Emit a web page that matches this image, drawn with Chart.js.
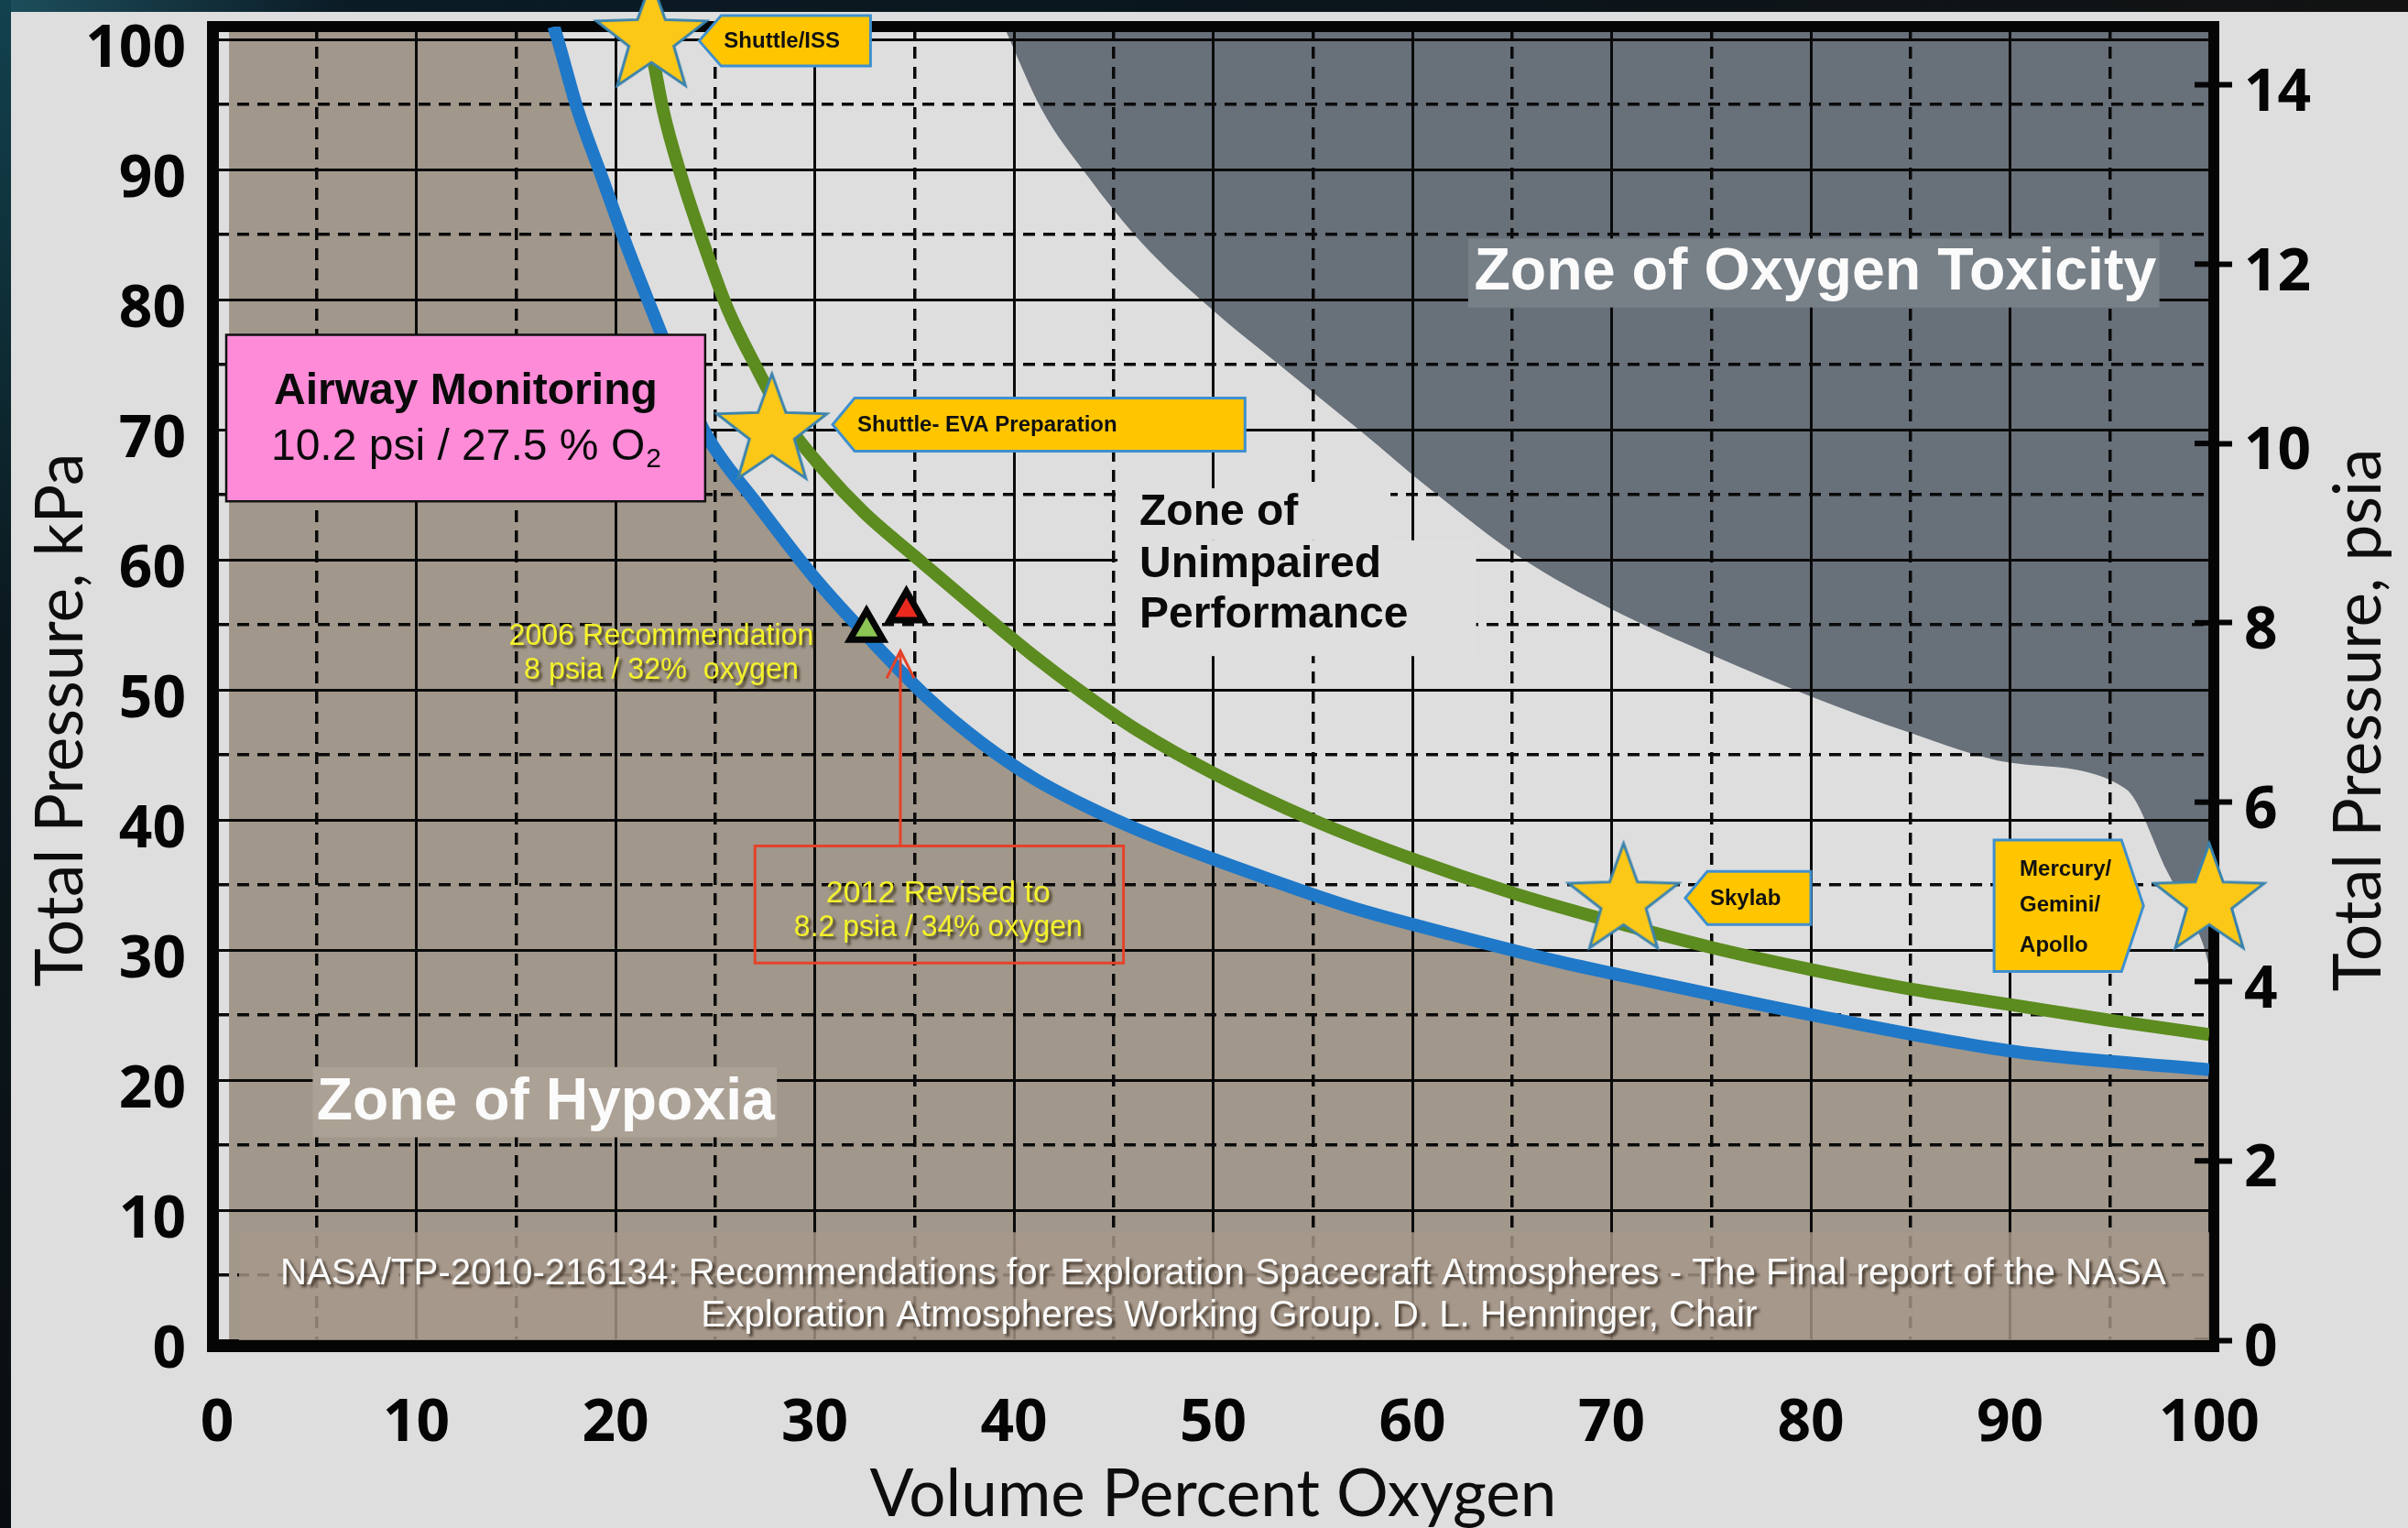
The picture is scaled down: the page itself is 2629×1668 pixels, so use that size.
<!DOCTYPE html>
<html>
<head>
<meta charset="utf-8">
<title>Spacecraft atmosphere zones</title>
<script src="https://cdn.jsdelivr.net/npm/chart.js@4.4.1/dist/chart.umd.min.js"></script>
<style>
  html, body { margin: 0; padding: 0; background: #dedede; }
  #wrap { position: relative; width: 2629px; height: 1668px; overflow: hidden; background: #dedede; }
  #topBand { position: absolute; left: 0; top: 0; width: 2629px; height: 13px;
    background: linear-gradient(90deg, #1d4f5c 0, #0b1c26 14%, #0a151c 55%, #121212 100%); }
  #leftBand { position: absolute; left: 0; top: 0; width: 12px; height: 1668px;
    background: linear-gradient(180deg, #12424e 0, #0b1a20 40%, #0a0d10 100%); }
  #myChart { position: absolute; left: 0; top: 0; }
</style>
</head>
<body>
<div id="wrap">
  <div id="topBand"></div>
  <div id="leftBand"></div>
  <canvas id="myChart" width="2629" height="1668"></canvas>
</div>
<script>
// axis ticks
const oxygenTicks = [0, 5, 10, 15, 20, 25, 30, 35, 40, 45, 50, 55, 60, 65, 70, 75, 80, 85, 90, 95, 100];
const kpaTicks = [0, 5, 10, 15, 20, 25, 30, 35, 40, 45, 50, 55, 60, 65, 70, 75, 80, 85, 90, 95, 100];
const psiaTicks = [0, 2, 4, 6, 8, 10, 12, 14];
const KPA_PER_PSI = 6.894757;

// blue line - hypoxia limit
const hypoxiaO2 = [16.9, 17.1, 18.1, 19.3, 20.5, 21.8, 23.1, 24.6, 27.1, 30.0, 32.9, 35.8, 38.4, 41.0, 43.7, 46.3, 51.6, 56.9, 62.2, 67.4, 71.9, 80.4, 90.2, 100];
const hypoxiaKpa = [101, 100, 94.6, 89.5, 84.4, 79.3, 74.4, 69.5, 64.3, 58.6, 53.7, 49.2, 45.9, 43.2, 41.0, 39.2, 36.1, 33.3, 31.1, 29.1, 27.6, 24.9, 22.2, 20.8];

// green line - sea level equivalent
const equivO2 = [21.6, 22.4, 23.3, 24.4, 25.6, 27.0, 28.6, 30.4, 32.5, 35.0, 38.0, 41.0, 43.7, 46.3, 50.0, 55.0, 60.0, 65.0, 70.0, 75.0, 80.0, 85.0, 90.0, 95.0, 100];
const equivKpa = [101, 94.5, 89.5, 84.4, 79.4, 75, 70.5, 67, 63.6, 60.3, 56.4, 52.6, 49.5, 46.8, 43.6, 40.0, 37.0, 34.4, 32.2, 30.2, 28.5, 27.0, 25.8, 24.6, 23.5];

// edge of the oxygen toxicity zone
const toxicO2 = [39.5, 41.4, 43.7, 46.4, 49.9, 53.8, 57.4, 61.0, 65.4, 70.0, 75.0, 80.0, 85.0, 90.0, 95.8, 97.9, 99.7, 100];
const toxicKpa = [101, 94.6, 89.5, 84.4, 79.3, 74.4, 69.9, 65.3, 60.2, 56.2, 52.7, 49.5, 46.7, 44.4, 42.4, 36.0, 30.4, 28.7];

// missions (stars)
const missionNames = ['Shuttle/ISS', 'Shuttle- EVA Preparation', 'Skylab', 'Mercury/Gemini/Apollo'];
const missionO2 = [21.8, 27.85, 70.6, 100];
const missionKpa = [100.5, 70.3, 34.2, 34.2];

// exploration recommendations (triangles)
const recYears = ['2006', '2012'];
const recO2 = [32.6, 34.6];
const recKpa = [54.6, 56.1];

function pts(xs, ys) {
    return xs.map((x, i) => ({ x: x, y: ys[i] }));
}

function makeStar(r) {
    let c = document.createElement('canvas');
    let size = Math.ceil(r * 2 + 8);
    c.width = size;
    c.height = size;
    let g = c.getContext('2d');
    let cx = size / 2, cy = size / 2 + r * 0.1;
    g.beginPath();
    for (let i = 0; i < 10; i++) {
        let rr = i % 2 === 0 ? r : r * 0.41;
        let a = -Math.PI / 2 + i * Math.PI / 5;
        g.lineTo(cx + rr * Math.cos(a), cy + rr * Math.sin(a));
    }
    g.closePath();
    g.fillStyle = '#fcc818';
    g.fill();
    g.lineWidth = 3;
    g.strokeStyle = '#3a83ad';
    g.stroke();
    return c;
}

// text with optional horizontal squeeze to a target width
function txt(g, s, x, y, o) {
    g.save();
    g.font = o.font;
    g.textBaseline = 'middle';
    g.textAlign = 'left';
    let w = g.measureText(s).width;
    let sx = o.sx || (o.width ? o.width / w : 1);
    let dx = o.align === 'center' ? -w * sx / 2 : (o.align === 'right' ? -w * sx : 0);
    if (o.shadow) {
        g.shadowColor = o.shadow;
        g.shadowOffsetX = 3;
        g.shadowOffsetY = 3;
        g.shadowBlur = 3;
    }
    g.fillStyle = o.color;
    g.translate(x + dx, y);
    g.scale(sx, 1);
    g.fillText(s, 0, 0);
    g.restore();
    return sx;
}

function callout(g, dir, tipX, tipY, len, h) {
    let d = 24 * (dir === 'left' ? 1 : -1);
    let end = dir === 'left' ? tipX + len : tipX - len;
    g.beginPath();
    g.moveTo(tipX, tipY);
    g.lineTo(tipX + d, tipY - h / 2);
    g.lineTo(end, tipY - h / 2);
    g.lineTo(end, tipY + h / 2);
    g.lineTo(tipX + d, tipY + h / 2);
    g.closePath();
    g.fillStyle = '#ffc600';
    g.fill();
    g.lineWidth = 3;
    g.strokeStyle = '#3f8fcf';
    g.stroke();
}

const starImg = makeStar(63);

// frame, psia tick stubs and mission callouts (under the data marks)
const framePlugin = {
    id: 'frame',
    beforeDatasetsDraw(c) {
        let a = c.chartArea, g = c.ctx;
        let X = v => c.scales.x.getPixelForValue(v);
        let Y = v => c.scales.y.getPixelForValue(v);
        g.save();
        g.fillStyle = '#050505';
        g.fillRect(a.left - 11, a.top - 6, 11, a.bottom - a.top + 19);
        g.fillRect(a.left - 11, a.top - 6, a.right - a.left + 22, 12);
        g.fillRect(a.right, a.top - 6, 11, a.bottom - a.top + 19);
        g.fillRect(a.left - 11, a.bottom, a.right - a.left + 22, 13);
        c.scales.y2.ticks.forEach(t => {
            let y = c.scales.y2.getPixelForValue(t.value);
            g.fillRect(a.right - 16, y - 3, 16, 6);
        });

        let f = 'bold 24px "Liberation Sans", Arial, sans-serif';
        // Shuttle/ISS
        callout(g, 'left', X(24.2), Y(99.9), X(32.8) - X(24.2), 55);
        txt(g, missionNames[0], X(24.2) + 27, Y(99.9) + 1, { font: f, color: '#111' });
        // EVA prep
        callout(g, 'left', X(30.9), Y(70.4), X(51.6) - X(30.9), 58);
        txt(g, missionNames[1], X(30.9) + 27, Y(70.4) + 1, { font: f, color: '#111' });
        // Skylab
        callout(g, 'left', X(73.7), Y(34.0), X(80) - X(73.7), 58);
        txt(g, missionNames[2], X(73.7) + 27, Y(34.0) + 1, { font: f, color: '#111' });
        // Mercury / Gemini / Apollo
        callout(g, 'right', X(96.7), Y(33.4), X(96.7) - X(89.2), Y(28.3) - Y(38.4));
        txt(g, 'Mercury/', X(89.2) + 28, Y(36.2), { font: f, color: '#111' });
        txt(g, 'Gemini/', X(89.2) + 28, Y(33.4), { font: f, color: '#111' });
        txt(g, 'Apollo', X(89.2) + 28, Y(30.3), { font: f, color: '#111' });
        g.restore();
    }
};

// zone labels, boxes and notes (over the curves)
const notesPlugin = {
    id: 'notes',
    afterDatasetsDraw(c) {
        let a = c.chartArea, g = c.ctx;
        let X = v => c.scales.x.getPixelForValue(v);
        let Y = v => c.scales.y.getPixelForValue(v);
        g.save();

        // unimpaired zone label
        g.fillStyle = '#dfdfdf';
        g.fillRect(X(45.2), Y(65.5), X(58.9) - X(45.2), Y(61.5) - Y(65.5));
        g.fillRect(X(45.2), Y(61.5), X(63.2) - X(45.2), Y(52.6) - Y(61.5));
        let fb48 = 'bold 48px "Liberation Sans", Arial, sans-serif';
        txt(g, 'Zone of', X(46.3), Y(63.6), { font: fb48, color: '#0a0a0a' });
        txt(g, 'Unimpaired', X(46.3), Y(59.6), { font: fb48, color: '#0a0a0a' });
        txt(g, 'Performance', X(46.3), Y(55.7), { font: fb48, color: '#0a0a0a' });

        // toxicity label
        g.fillStyle = '#777f87';
        g.fillRect(X(62.8), Y(84.7), X(97.5) - X(62.8), Y(79.4) - Y(84.7));
        txt(g, 'Zone of Oxygen Toxicity', X(63.1), Y(82.0), { font: 'bold 64px "Liberation Sans", Arial, sans-serif', color: '#fbfbfb', width: 745 });

        // hypoxia label
        g.fillStyle = '#aca195';
        g.fillRect(X(4.8), Y(21.0), X(28.1) - X(4.8), Y(15.6) - Y(21.0));
        txt(g, 'Zone of Hypoxia', X(5.0), Y(18.2), { font: 'bold 64px "Liberation Sans", Arial, sans-serif', color: '#fbfbfb', width: 500 });

        // reference band
        g.fillStyle = 'rgba(167,152,138,0.82)';
        g.fillRect(X(1.1), Y(8.3), a.right - X(1.1), a.bottom - Y(8.3));
        let fn = '40px "Liberation Sans", Arial, sans-serif';
        let sx = txt(g, 'NASA/TP-2010-216134: Recommendations for Exploration Spacecraft Atmospheres - The Final report of the NASA',
            X(50.5), Y(5.1), { font: fn, color: '#fafafa', align: 'center', width: 2059, shadow: 'rgba(40,30,20,0.75)' });
        txt(g, 'Exploration Atmospheres Working Group. D. L. Henninger, Chair',
            X(50.8), Y(1.8), { font: fn, color: '#fafafa', align: 'center', sx: sx, shadow: 'rgba(40,30,20,0.75)' });

        // 2006 / 2012 notes
        let fy = '33px "Liberation Sans", Arial, sans-serif';
        let yel = '#f4f22c', sh = 'rgba(50,40,10,0.8)';
        txt(g, recYears[0] + ' Recommendation', X(22.3), Y(54.1), { font: fy, color: yel, align: 'center', width: 333, shadow: sh });
        txt(g, '8 psia / 32%  oxygen', X(22.3), Y(51.5), { font: fy, color: yel, align: 'center', width: 300, shadow: sh });

        g.strokeStyle = '#e5422a';
        g.lineWidth = 3;
        g.strokeRect(X(27.0), Y(38.0), X(45.5) - X(27.0), Y(29.0) - Y(38.0));
        txt(g, recYears[1] + ' Revised to', X(36.2), Y(34.3), { font: fy, color: yel, align: 'center', width: 245, shadow: sh });
        txt(g, '8.2 psia / 34% oxygen', X(36.2), Y(31.7), { font: fy, color: yel, align: 'center', width: 315, shadow: sh });

        // arrow from the 2012 box to the new point
        let ax = X(34.3);
        g.beginPath();
        g.moveTo(ax, Y(38.0));
        g.lineTo(ax, Y(53.0));
        g.moveTo(ax - 15, Y(50.9));
        g.lineTo(ax, Y(53.0));
        g.lineTo(ax + 15, Y(50.9));
        g.stroke();

        // airway monitoring box
        g.fillStyle = '#fd8bd8';
        g.fillRect(X(0.46), Y(77.3), X(24.5) - X(0.46), Y(64.5) - Y(77.3));
        g.strokeStyle = '#111';
        g.lineWidth = 2.5;
        g.strokeRect(X(0.46), Y(77.3), X(24.5) - X(0.46), Y(64.5) - Y(77.3));
        let cx = (X(0.46) + X(24.5)) / 2;
        txt(g, 'Airway Monitoring', cx, Y(72.9), { font: 'bold 48px "Liberation Sans", Arial, sans-serif', color: '#0a0a0a', align: 'center' });
        g.font = '48px "Liberation Sans", Arial, sans-serif';
        let main = '10.2 psi / 27.5 % O';
        let w1 = g.measureText(main).width;
        g.font = '30px "Liberation Sans", Arial, sans-serif';
        let w2 = g.measureText('2').width;
        let x0 = cx - (w1 + w2) / 2;
        txt(g, main, x0, Y(68.6), { font: '48px "Liberation Sans", Arial, sans-serif', color: '#0a0a0a' });
        txt(g, '2', x0 + w1 + 1, Y(68.6) + 13, { font: '30px "Liberation Sans", Arial, sans-serif', color: '#0a0a0a' });

        g.restore();
    },
    afterDraw(c) {
        let g = c.ctx;
        let mid = 786;
        [['Total Pressure, kPa', 67], ['Total Pressure, psia', 2576]].forEach(t => {
            g.save();
            g.font = '71px Lato, "Open Sans", sans-serif';
            g.fillStyle = '#0d0d0d';
            g.textAlign = 'center';
            g.textBaseline = 'middle';
            g.translate(t[1], mid);
            g.rotate(-Math.PI / 2);
            g.fillText(t[0], 0, 0);
            g.restore();
        });
    }
};

function fixFit(size, key) {
    return function (s) {
        s[key] = size;
        s.paddingLeft = 0;
        s.paddingRight = 0;
        s.paddingTop = 0;
        s.paddingBottom = 0;
    };
}

const tickFont = { family: 'Open Sans', weight: 'bold', size: 64 };
const isMinor = c => c.tick && c.tick.value % 10 !== 0;

var chart = new Chart(document.getElementById('myChart'), {
    type: 'scatter',
    data: {
        datasets: [
            { label: 'Missions', data: pts(missionO2, missionKpa), pointStyle: starImg, pointRadius: 60, showLine: false, clip: false },
            { label: 'Recommendations', data: pts(recO2, recKpa), pointStyle: 'triangle', pointRadius: 21, pointBorderWidth: 7,
              pointBackgroundColor: ['#8cc455', '#ea2a1e'], pointBorderColor: '#050505', showLine: false, clip: false },
            { label: 'Sea level equivalent', data: pts(equivO2, equivKpa), showLine: true, borderColor: '#5c8b1f', borderWidth: 14,
              pointRadius: 0, cubicInterpolationMode: 'monotone', fill: false },
            { label: 'Hypoxia limit', data: pts(hypoxiaO2, hypoxiaKpa), showLine: true, borderColor: '#1f78c8', borderWidth: 14,
              pointRadius: 0, cubicInterpolationMode: 'monotone', fill: false },
            { label: 'Zone of Hypoxia', data: [{ x: 0.6, y: 101 }].concat(pts(hypoxiaO2, hypoxiaKpa)), showLine: true,
              borderWidth: 0, borderColor: 'transparent', pointRadius: 0, cubicInterpolationMode: 'monotone', fill: 'start', backgroundColor: '#a1978b' },
            { label: 'Zone of Oxygen Toxicity', data: pts(toxicO2, toxicKpa), showLine: true,
              borderWidth: 0, borderColor: 'transparent', pointRadius: 0, cubicInterpolationMode: 'monotone', fill: 'end', backgroundColor: '#68707a' }
        ]
    },
    options: {
        responsive: false,
        animation: false,
        devicePixelRatio: 1,
        layout: { autoPadding: false, padding: { top: 29, left: 0, right: 0, bottom: 0 } },
        plugins: {
            legend: { display: false },
            tooltip: { enabled: false },
            filler: { drawTime: 'beforeDraw' }
        },
        scales: {
            x: {
                type: 'linear', min: 0, max: 100,
                afterBuildTicks: s => { s.ticks = oxygenTicks.map(v => ({ value: v })); },
                afterFit: fixFit(205, 'height'),
                grid: { color: '#0a0a0a', lineWidth: c => isMinor(c) ? 3.5 : 3, drawTicks: false },
                border: { display: false, dash: c => isMinor(c) ? [13, 9] : [] },
                ticks: { font: tickFont, color: '#050505', padding: 53, autoSkip: false, maxRotation: 0,
                         callback: v => v % 10 === 0 ? v : '' },
                title: { display: true, text: 'Volume Percent Oxygen', color: '#0d0d0d',
                         font: { family: 'Lato', size: 71, lineHeight: 1 }, padding: 0 }
            },
            y: {
                type: 'linear', min: 0, max: 101,
                afterBuildTicks: s => { s.ticks = kpaTicks.map(v => ({ value: v })); },
                afterFit: fixFit(237, 'width'),
                grid: { color: '#0a0a0a', lineWidth: c => isMinor(c) ? 3.5 : 3, drawTicks: false },
                border: { display: false, dash: c => isMinor(c) ? [13, 9] : [] },
                ticks: { font: tickFont, color: '#050505', padding: 34, labelOffset: 12, autoSkip: false,
                         callback: v => v % 10 === 0 ? v : '' }
            },
            y2: {
                type: 'linear', position: 'right', min: 0, max: 101 / KPA_PER_PSI,
                afterBuildTicks: s => { s.ticks = psiaTicks.map(v => ({ value: v })); },
                afterFit: fixFit(217, 'width'),
                grid: { drawOnChartArea: false, drawTicks: true, tickLength: 25, tickWidth: 6, tickColor: '#050505' },
                border: { display: false },
                ticks: { font: tickFont, color: '#050505', padding: 13, labelOffset: 10, autoSkip: false }
            }
        }
    },
    plugins: [framePlugin, notesPlugin]
});
</script>
</body>
</html>
